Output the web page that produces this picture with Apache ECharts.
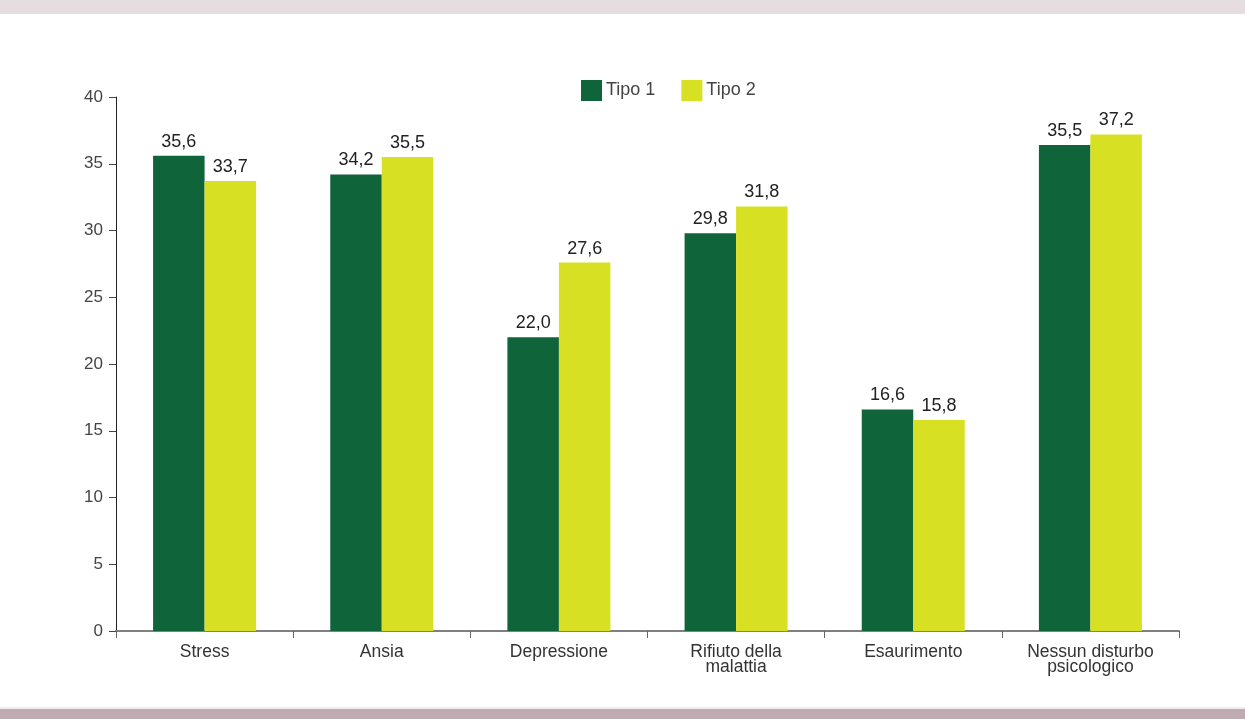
<!DOCTYPE html>
<html>
<head>
<meta charset="utf-8">
<script src="https://cdn.jsdelivr.net/npm/echarts@6/dist/echarts.min.js"></script>
<style>
html,body{margin:0;padding:0;background:#fff;}
#chart{width:1245px;height:719px;}
</style>
</head>
<body>
<div id="chart"></div>
<script>
const categories = ['Stress', 'Ansia', 'Depressione', 'Rifiuto della\nmalattia', 'Esaurimento', 'Nessun disturbo\npsicologico'];
const seriesNames = ['Tipo 1', 'Tipo 2'];
const tipo1 = [35.6, 34.2, 22.0, 29.8, 16.6, 36.4];
const tipo2 = [33.7, 35.5, 27.6, 31.8, 15.8, 37.2];
const tipo1Labels = ['35,6', '34,2', '22,0', '29,8', '16,6', '35,5'];
const tipo2Labels = ['33,7', '35,5', '27,6', '31,8', '15,8', '37,2'];
const yTicks = [0, 5, 10, 15, 20, 25, 30, 35, 40];

const chart = echarts.init(document.getElementById('chart'));
const font = 'Liberation Sans, Arial, Helvetica, sans-serif';
const labelStyle = (arr) => ({
  show: true, position: 'top', distance: 5,
  color: '#222', fontSize: 18, fontFamily: font,
  formatter: p => arr[p.dataIndex]
});
chart.setOption({
  animation: false,
  backgroundColor: '#fff',
  textStyle: { fontFamily: font },
  graphic: [
    { type: 'rect', shape: { x: 0, y: 0, width: 1245, height: 14 }, style: { fill: '#e6dde0' } },
    { type: 'rect', shape: { x: 0, y: 707, width: 1245, height: 2 }, style: { fill: '#efeaec' } },
    { type: 'rect', shape: { x: 0, y: 709, width: 1245, height: 10 }, style: { fill: '#bfabb1' } }
  ],
  legend: {
    data: seriesNames,
    left: 581, top: 80, padding: 0,
    itemWidth: 21, itemHeight: 21, itemGap: 26,
    icon: 'rect',
    textStyle: { fontSize: 18, color: '#444', fontFamily: font, padding: [0, 0, 0, -1] }
  },
  grid: { left: 116, right: 66, top: 97, bottom: 88, containLabel: false },
  xAxis: {
    type: 'category',
    data: categories,
    axisLine: { lineStyle: { color: '#808080', width: 2 } },
    axisTick: { show: true, alignWithLabel: false, length: 7, lineStyle: { color: '#666', width: 1 } },
    axisLabel: { color: '#333', fontSize: 17.5, lineHeight: 15, margin: 14, fontFamily: font, interval: 0 }
  },
  yAxis: {
    type: 'value',
    min: 0, max: 40, interval: 5,
    axisLine: { show: true, lineStyle: { color: '#222', width: 1 } },
    axisTick: { show: true, length: 7, lineStyle: { color: '#444' } },
    splitLine: { show: false },
    axisLabel: {
      color: '#444', fontSize: 17, margin: 13, fontFamily: font,
      formatter: v => yTicks.includes(v) ? String(v) : ''
    }
  },
  series: [
    {
      name: seriesNames[0], type: 'bar', data: tipo1,
      barWidth: 51.5, barGap: '0%',
      itemStyle: { color: '#10643a' },
      label: labelStyle(tipo1Labels)
    },
    {
      name: seriesNames[1], type: 'bar', data: tipo2,
      barWidth: 51.5, barGap: '0%',
      itemStyle: { color: '#d7e022' },
      label: labelStyle(tipo2Labels)
    }
  ]
});
</script>
</body>
</html>
